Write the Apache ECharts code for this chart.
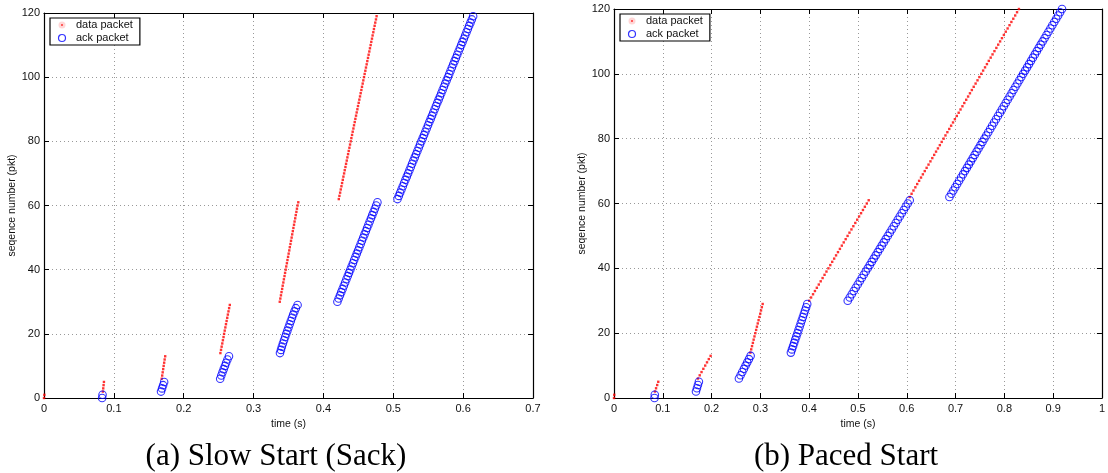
<!DOCTYPE html>
<html>
<head>
<meta charset="utf-8">
<script src="https://cdn.jsdelivr.net/npm/echarts@6/dist/echarts.min.js"></script>
<style>
html, body { margin: 0; padding: 0; background: #fff; }
#chart { width: 1108px; height: 473px; }
</style>
</head>
<body>
<div id="chart"></div>
<script>
// send / ack time (s) of each packet; array index = sequence number (pkt)
const slowDataTimes = [
  0.0000, 0.0005,
  0.0843, 0.0848, 0.0853, 0.0858,
  0.1685, 0.1692, 0.1699, 0.1706, 0.1713, 0.1720, 0.1727, 0.1735,
  0.2525, 0.2534, 0.2543, 0.2552, 0.2561, 0.2570, 0.2578, 0.2587,
  0.2596, 0.2605, 0.2614, 0.2623, 0.2632, 0.2641, 0.2650, 0.2660,
  0.3375, 0.3383, 0.3392, 0.3400, 0.3409, 0.3417, 0.3426, 0.3434, 0.3443, 0.3451,
  0.3460, 0.3468, 0.3477, 0.3485, 0.3494, 0.3502, 0.3511, 0.3519, 0.3528, 0.3536,
  0.3545, 0.3553, 0.3562, 0.3570, 0.3579, 0.3587, 0.3596, 0.3604, 0.3613, 0.3621,
  0.3630, 0.3640,
  0.4220, 0.4229, 0.4239, 0.4248, 0.4258, 0.4267, 0.4277, 0.4286, 0.4296, 0.4305,
  0.4315, 0.4324, 0.4334, 0.4343, 0.4353, 0.4362, 0.4372, 0.4381, 0.4391, 0.4400,
  0.4410, 0.4419, 0.4429, 0.4438, 0.4448, 0.4457, 0.4467, 0.4476, 0.4486, 0.4495,
  0.4505, 0.4514, 0.4524, 0.4533, 0.4543, 0.4552, 0.4562, 0.4571, 0.4581, 0.4590,
  0.4600, 0.4609, 0.4619, 0.4628, 0.4638, 0.4647, 0.4657, 0.4666, 0.4676, 0.4685,
  0.4695, 0.4704, 0.4714, 0.4723, 0.4733, 0.4742, 0.4752, 0.4761,
]

const slowAckTimes = [
  0.0832, 0.0838,
  0.1675, 0.1690, 0.1705, 0.1720,
  0.2522, 0.2538, 0.2555, 0.2572, 0.2590, 0.2607, 0.2626, 0.2648,
  0.3378, 0.3392, 0.3405, 0.3420, 0.3436, 0.3452, 0.3468, 0.3484,
  0.3500, 0.3516, 0.3533, 0.3550, 0.3567, 0.3585, 0.3605, 0.3630,
  0.4200, 0.4218, 0.4237, 0.4255, 0.4274, 0.4292, 0.4311, 0.4329, 0.4348, 0.4366,
  0.4385, 0.4403, 0.4422, 0.4440, 0.4459, 0.4477, 0.4496, 0.4514, 0.4533, 0.4551,
  0.4570, 0.4588, 0.4607, 0.4625, 0.4644, 0.4662, 0.4681, 0.4699, 0.4718, 0.4736,
  0.4755, 0.4773,
  0.5060, 0.5079, 0.5098, 0.5117, 0.5136, 0.5155, 0.5174, 0.5193, 0.5212, 0.5231,
  0.5250, 0.5269, 0.5288, 0.5307, 0.5326, 0.5345, 0.5364, 0.5383, 0.5402, 0.5421,
  0.5440, 0.5459, 0.5478, 0.5497, 0.5516, 0.5535, 0.5554, 0.5573, 0.5592, 0.5611,
  0.5630, 0.5649, 0.5668, 0.5687, 0.5706, 0.5725, 0.5744, 0.5763, 0.5782, 0.5801,
  0.5820, 0.5839, 0.5858, 0.5877, 0.5896, 0.5915, 0.5934, 0.5953, 0.5972, 0.5991,
  0.6010, 0.6029, 0.6048, 0.6067, 0.6086, 0.6105, 0.6124, 0.6143,
]

const pacedDataTimes = [
  0.0000, 0.0005,
  0.0840, 0.0862, 0.0885, 0.0907,
  0.1720, 0.1757, 0.1794, 0.1831, 0.1869, 0.1906, 0.1943, 0.1980,
  0.2795, 0.2812, 0.2829, 0.2846, 0.2862, 0.2879, 0.2896, 0.2913,
  0.2929, 0.2946, 0.2963, 0.2980, 0.2997, 0.3013, 0.3030, 0.3047,
  0.4000, 0.4039, 0.4079, 0.4118, 0.4157, 0.4197, 0.4236, 0.4275, 0.4315, 0.4354,
  0.4394, 0.4433, 0.4472, 0.4512, 0.4551, 0.4590, 0.4630, 0.4669, 0.4708, 0.4748,
  0.4787, 0.4826, 0.4866, 0.4905, 0.4945, 0.4984, 0.5023, 0.5063, 0.5102, 0.5141,
  0.5181, 0.5220,
  0.6060, 0.6099, 0.6137, 0.6176, 0.6214, 0.6253, 0.6292, 0.6330, 0.6369, 0.6407,
  0.6446, 0.6485, 0.6523, 0.6562, 0.6600, 0.6639, 0.6678, 0.6716, 0.6755, 0.6793,
  0.6832, 0.6871, 0.6909, 0.6948, 0.6986, 0.7025, 0.7064, 0.7102, 0.7141, 0.7179,
  0.7218, 0.7257, 0.7295, 0.7334, 0.7372, 0.7411, 0.7450, 0.7488, 0.7527, 0.7565,
  0.7604, 0.7643, 0.7681, 0.7720, 0.7758, 0.7797, 0.7836, 0.7874, 0.7913, 0.7951,
  0.7990, 0.8029, 0.8067, 0.8106, 0.8144, 0.8183, 0.8222, 0.8260, 0.8299,
]

const pacedAckTimes = [
  0.0830, 0.0836,
  0.1680, 0.1700, 0.1720, 0.1740,
  0.2560, 0.2594, 0.2629, 0.2663, 0.2697, 0.2731, 0.2766, 0.2800,
  0.3625, 0.3647, 0.3670, 0.3692, 0.3714, 0.3737, 0.3759, 0.3781,
  0.3804, 0.3826, 0.3848, 0.3871, 0.3893, 0.3915, 0.3938, 0.3960,
  0.4790, 0.4831, 0.4872, 0.4913, 0.4954, 0.4995, 0.5036, 0.5077, 0.5118, 0.5159,
  0.5200, 0.5241, 0.5282, 0.5323, 0.5364, 0.5405, 0.5446, 0.5487, 0.5528, 0.5569,
  0.5610, 0.5651, 0.5692, 0.5733, 0.5774, 0.5815, 0.5856, 0.5897, 0.5938, 0.5979,
  0.6020, 0.6061,
  0.6874, 0.6914, 0.6954, 0.6993, 0.7033, 0.7073, 0.7113, 0.7153, 0.7192, 0.7232,
  0.7272, 0.7312, 0.7352, 0.7391, 0.7431, 0.7471, 0.7511, 0.7551, 0.7590, 0.7630,
  0.7670, 0.7710, 0.7750, 0.7789, 0.7829, 0.7869, 0.7909, 0.7949, 0.7988, 0.8028,
  0.8068, 0.8108, 0.8148, 0.8187, 0.8227, 0.8267, 0.8307, 0.8347, 0.8386, 0.8426,
  0.8466, 0.8506, 0.8546, 0.8585, 0.8625, 0.8665, 0.8705, 0.8745, 0.8784, 0.8824,
  0.8864, 0.8904, 0.8944, 0.8983, 0.9023, 0.9063, 0.9103, 0.9143, 0.9182,
]

const slowTimeTicks = ['0', '0.1', '0.2', '0.3', '0.4', '0.5', '0.6', '0.7']
const pacedTimeTicks = ['0', '0.1', '0.2', '0.3', '0.4', '0.5', '0.6', '0.7', '0.8', '0.9', '1']
const seqTicks = ['0', '20', '40', '60', '80', '100', '120']
const captions = ['(a) Slow Start (Sack)', '(b) Paced Start']

const font = '"Liberation Sans", Arial, sans-serif'
const captionFont = '31px "Liberation Serif", "Times New Roman", serif'
const black = '#000'
const textColor = '#111'

function toPoints(times) {
  return times.map((t, seq) => [t, seq])
}

function xAxes(gridIndex, max, ticks) {
  const common = {
    type: 'value',
    gridIndex,
    min: 0,
    max,
    interval: 0.1,
    axisLine: { show: true, onZero: false, lineStyle: { color: black, width: 1.2 } },
    axisTick: { show: true, inside: true, length: 5, lineStyle: { color: black } },
  }
  return [
    {
      ...common,
      position: 'bottom',
      name: 'time (s)',
      nameLocation: 'middle',
      nameGap: 16,
      nameTextStyle: { fontFamily: font, fontSize: 10.5, color: textColor },
      axisLabel: {
        margin: 5,
        fontFamily: font,
        fontSize: 11,
        color: textColor,
        formatter: (v) => ticks[Math.round(v * 10)],
      },
      splitLine: { show: true, lineStyle: { color: '#999', width: 1, type: [1, 3] } },
    },
    {
      ...common,
      position: 'top',
      axisLabel: { show: false },
      splitLine: { show: false },
    },
  ]
}

function yAxes(gridIndex) {
  const common = {
    type: 'value',
    gridIndex,
    min: 0,
    max: 120,
    interval: 20,
    axisLine: { show: true, onZero: false, lineStyle: { color: black, width: 1.2 } },
    axisTick: { show: true, inside: true, length: 5, lineStyle: { color: black } },
  }
  return [
    {
      ...common,
      position: 'left',
      name: 'seqence number (pkt)',
      nameLocation: 'middle',
      nameGap: 23,
      nameTextStyle: { fontFamily: font, fontSize: 10.5, color: textColor },
      axisLabel: {
        margin: 4,
        fontFamily: font,
        fontSize: 11,
        color: textColor,
        formatter: (v) => seqTicks[Math.round(v / 20)],
      },
      splitLine: { show: true, lineStyle: { color: '#999', width: 1, type: [1, 3] } },
    },
    {
      ...common,
      position: 'right',
      axisLabel: { show: false },
      splitLine: { show: false },
    },
  ]
}

function legendAt(left, top) {
  return {
    left,
    top,
    orient: 'vertical',
    padding: [1, 7, 1, 6],
    itemGap: 1,
    itemWidth: 18,
    itemHeight: 7,
    borderColor: black,
    borderWidth: 1.2,
    backgroundColor: '#fff',
    selectedMode: false,
    textStyle: { fontFamily: font, fontSize: 11, color: textColor, lineHeight: 12 },
    data: [
      { name: 'data packet', icon: 'circle', itemStyle: { color: '#ff0000', borderColor: '#fff', borderWidth: 5 } },
      { name: 'ack packet', icon: 'circle', itemStyle: { color: 'rgba(0,0,0,0)', borderColor: '#0000ff', borderWidth: 1.2 } },
    ],
  }
}

function dataSeries(xAxisIndex, yAxisIndex, times) {
  return {
    name: 'data packet',
    type: 'scatter',
    xAxisIndex,
    yAxisIndex,
    symbol: 'rect',
    symbolSize: 2.4,
    itemStyle: { color: '#ff0000' },
    data: toPoints(times),
    z: 3,
  }
}

function ackSeries(xAxisIndex, yAxisIndex, times) {
  return {
    name: 'ack packet',
    type: 'scatter',
    xAxisIndex,
    yAxisIndex,
    symbol: 'circle',
    symbolSize: 7.5,
    itemStyle: { color: 'rgba(0,0,0,0)', borderColor: '#0000ff', borderWidth: 1.1 },
    data: toPoints(times),
    z: 4,
  }
}

const chart = echarts.init(document.getElementById('chart'), null, { renderer: 'canvas' })

chart.setOption({
  animation: false,
  backgroundColor: '#fff',
  grid: [
    { left: 44, top: 13, width: 489, height: 385 },
    { left: 614, top: 9, width: 493, height: 389 },
  ],
  xAxis: [...xAxes(0, 0.7, slowTimeTicks), ...xAxes(1, 1, pacedTimeTicks)],
  yAxis: [...yAxes(0), ...yAxes(1)],
  legend: [legendAt(50, 18), legendAt(620, 14)],
  series: [
    dataSeries(0, 0, slowDataTimes),
    ackSeries(0, 0, slowAckTimes),
    dataSeries(2, 2, pacedDataTimes),
    ackSeries(2, 2, pacedAckTimes),
  ],
  graphic: [
    {
      type: 'text',
      x: 276,
      y: 457,
      style: {
        text: captions[0],
        font: captionFont,
        fill: '#000',
        textAlign: 'center',
        textVerticalAlign: 'middle',
      },
    },
    {
      type: 'text',
      x: 846,
      y: 457,
      style: {
        text: captions[1],
        font: captionFont,
        fill: '#000',
        textAlign: 'center',
        textVerticalAlign: 'middle',
      },
    },
  ],
})
</script>
</body>
</html>
